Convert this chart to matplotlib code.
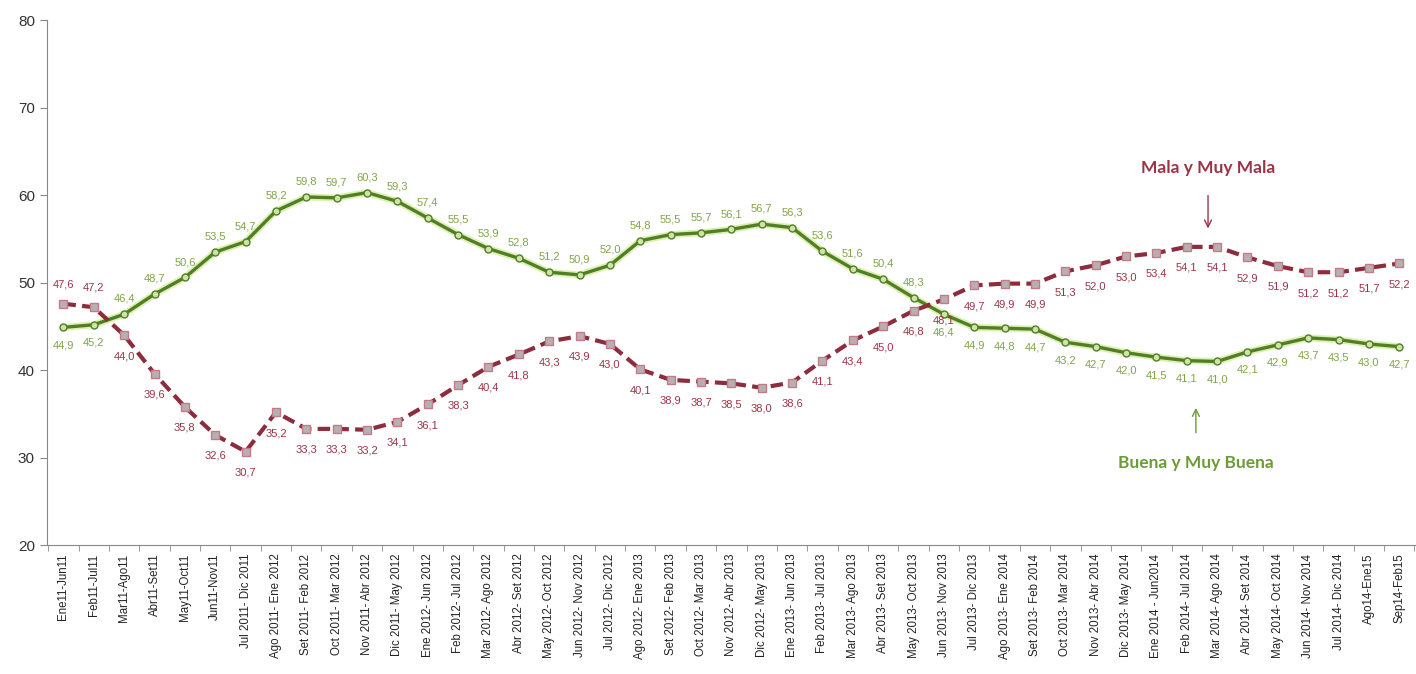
import numpy as np
import matplotlib.pyplot as plt

plt.rcParams['font.family'] = ['Liberation Sans', 'DejaVu Sans']

periodos = ['Ene11-Jun11', 'Feb11-Jul11', 'Mar11-Ago11', 'Abr11-Set11', 'May11-Oct11',
            'Jun11-Nov11', 'Jul 2011- Dic 2011', 'Ago 2011- Ene 2012', 'Set 2011- Feb 2012',
            'Oct 2011- Mar 2012', 'Nov 2011- Abr 2012', 'Dic 2011- May 2012',
            'Ene 2012- Jun 2012', 'Feb 2012- Jul 2012', 'Mar 2012- Ago 2012',
            'Abr 2012- Set 2012', 'May 2012- Oct 2012', 'Jun 2012- Nov 2012',
            'Jul 2012- Dic 2012', 'Ago 2012- Ene 2013', 'Set 2012- Feb 2013',
            'Oct 2012- Mar 2013', 'Nov 2012- Abr 2013', 'Dic 2012- May 2013',
            'Ene 2013- Jun 2013', 'Feb 2013- Jul 2013', 'Mar 2013- Ago 2013',
            'Abr 2013- Set 2013', 'May 2013- Oct 2013', 'Jun 2013- Nov 2013',
            'Jul 2013- Dic 2013', 'Ago 2013- Ene 2014', 'Set 2013- Feb 2014',
            'Oct 2013- Mar 2014', 'Nov 2013- Abr 2014', 'Dic 2013- May 2014',
            'Ene 2014 - Jun2014', 'Feb 2014- Jul 2014', 'Mar 2014- Ago 2014',
            'Abr 2014- Set 2014', 'May 2014- Oct 2014', 'Jun 2014- Nov 2014',
            'Jul 2014- Dic 2014', 'Ago14-Ene15', 'Sep14-Feb15']

buena = [44.9, 45.2, 46.4, 48.7, 50.6, 53.5, 54.7, 58.2, 59.8, 59.7, 60.3, 59.3,
         57.4, 55.5, 53.9, 52.8, 51.2, 50.9, 52.0, 54.8, 55.5, 55.7, 56.1, 56.7,
         56.3, 53.6, 51.6, 50.4, 48.3, 46.4, 44.9, 44.8, 44.7, 43.2, 42.7, 42.0,
         41.5, 41.1, 41.0, 42.1, 42.9, 43.7, 43.5, 43.0, 42.7]

mala = [47.6, 47.2, 44.0, 39.6, 35.8, 32.6, 30.7, 35.2, 33.3, 33.3, 33.2, 34.1,
        36.1, 38.3, 40.4, 41.8, 43.3, 43.9, 43.0, 40.1, 38.9, 38.7, 38.5, 38.0,
        38.6, 41.1, 43.4, 45.0, 46.8, 48.1, 49.7, 49.9, 49.9, 51.3, 52.0, 53.0,
        53.4, 54.1, 54.1, 52.9, 51.9, 51.2, 51.2, 51.7, 52.2]

verde = '#4f7f26'
verde_txt = '#7ea646'
rojo = '#8c2c3c'
rojo_txt = '#9c3446'

x = np.arange(len(periodos))

fig = plt.figure(figsize=(14.16, 6.74), dpi=100)
ax = fig.add_axes([0.033, 0.191, 0.967, 0.779])

# linea verde con halo
ax.plot(x, buena, color='#e0efb0', lw=5, solid_capstyle='round', zorder=2)
ax.plot(x, buena, color=verde, lw=2.4, marker='o', ms=5,
        mfc='#cfe3a8', mec=verde, mew=1, zorder=3)
# linea roja discontinua
ax.plot(x, mala, color=rojo, lw=3, ls=(0, (3, 1.5)), marker='s', ms=6,
        mfc='#b8b0b0', mec='#c47a88', mew=1, zorder=4)

def fmt(v):
    return ('%.1f' % v).replace('.', ',')

for i, v in enumerate(buena):
    dy = 11 if 2 <= i <= 28 else -13
    ax.annotate(fmt(v), (i, v), xytext=(0, dy), textcoords='offset points',
                ha='center', va='center', fontsize=8, color=verde_txt)

for i, v in enumerate(mala):
    dy = 14 if i < 2 else -15
    ax.annotate(fmt(v), (i, v), xytext=(0, dy), textcoords='offset points',
                ha='center', va='center', fontsize=8, color=rojo_txt)

ax.set_ylim(20, 80)
ax.set_yticks(range(20, 81, 10))
ax.set_xlim(-0.55, len(periodos) - 0.45)
ax.set_xticks(x)
ax.set_xticklabels(periodos, rotation=90, fontsize=8.3, color='#222222')
ax.set_xticks(np.arange(-0.5, len(periodos), 1), minor=True)
ax.tick_params(axis='x', which='major', length=0, pad=6)
ax.tick_params(axis='x', which='minor', length=4, color='#888888')
ax.tick_params(axis='y', labelsize=11, color='#888888', labelcolor='#333333', length=5)

for s in ['top', 'right']:
    ax.spines[s].set_visible(False)
ax.spines['left'].set_color('#888888')
ax.spines['bottom'].set_color('#888888')

# etiquetas de series
ax.annotate('Mala y Muy Mala', xy=(37.7, 56.2), xytext=(37.7, 63.1),
            ha='center', va='center', fontsize=12.5, fontweight='bold',
            family=['Lato', 'DejaVu Sans'], color=rojo_txt,
            arrowprops=dict(arrowstyle='->', color=rojo_txt, lw=1, shrinkA=12, shrinkB=0))
ax.annotate('Buena y Muy Buena', xy=(37.3, 35.7), xytext=(37.3, 29.4),
            ha='center', va='center', fontsize=12.5, fontweight='bold',
            family=['Lato', 'DejaVu Sans'], color='#6c9c38',
            arrowprops=dict(arrowstyle='->', color='#6c9c38', lw=1, shrinkA=14, shrinkB=0))

plt.savefig('out.png', dpi=100)
